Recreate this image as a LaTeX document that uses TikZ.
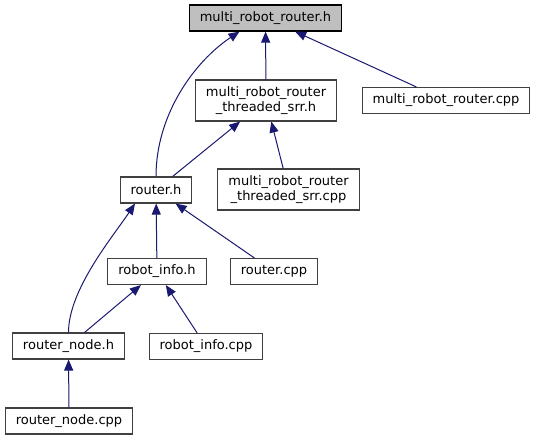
\documentclass[tikz,border=0pt]{standalone}
\usepackage{fontspec}
\setmainfont{DejaVu Sans}
\usepackage{xcolor}
\usepackage{tikz}
\usetikzlibrary{arrows.meta}
\definecolor{edgeblue}{HTML}{191970}
\definecolor{boxline}{HTML}{404040}
\definecolor{curfill}{HTML}{BFBFBF}
\tikzset{
  ar/.style={{Triangle[length=11bp,width=9bp]}-,line width=1bp,edgeblue},
  filebox/.style={draw=boxline,line width=1.1bp,fill=white,align=center,inner xsep=10.5bp,inner ysep=3bp,minimum height=26bp,
    font=\fontsize{13bp}{15bp}\selectfont},
  twoline/.style={filebox,minimum height=41bp},
  curfile/.style={filebox,draw=black,fill=curfill}
}

\begin{document}
\begin{tikzpicture}[x=1bp,y=-1bp]
\useasboundingbox (0,0) rectangle (536,440);
% files, one row per include level
\node[curfile] (mrr) at (265.5,18) {multi\_robot\_router.h};
\node[twoline] (thr_h) at (266,100.5) {multi\_robot\_router\\\_threaded\_srr.h};
\node[filebox] (mrr_cpp) at (446,100.5) {multi\_robot\_router.cpp};
\node[filebox] (router_h) at (156,190) {router.h};
\node[twoline] (thr_cpp) at (288.5,189.5) {multi\_robot\_router\\\_threaded\_srr.cpp};
\node[filebox] (info_h) at (157,271.5) {robot\_info.h};
\node[filebox] (router_cpp) at (274,271.5) {router.cpp};
\node[filebox] (node_h) at (68.5,346) {router\_node.h};
\node[filebox] (info_cpp) at (206,346.5) {robot\_info.cpp};
\node[filebox] (node_cpp) at (69,421) {router\_node.cpp};
% include edges
\draw[ar] (mrr) -- (thr_h);
\draw[ar] (mrr) -- (mrr_cpp);
\draw[ar] ([xshift=-26bp]mrr.south) .. controls +(-45,30) and +(0,-62) .. (router_h.north);
\draw[ar] (thr_h) -- (router_h);
\draw[ar] (thr_h) -- (thr_cpp);
\draw[ar] (router_h) -- (info_h);
\draw[ar] (router_h) -- (router_cpp);
\draw[ar] ([xshift=-21bp]router_h.south) .. controls +(-22,33) and +(0,-43) .. (node_h.north);
\draw[ar] (info_h) -- (node_h);
\draw[ar] (info_h) -- (info_cpp);
\draw[ar] (node_h) -- (node_cpp);
\end{tikzpicture}
\end{document}
